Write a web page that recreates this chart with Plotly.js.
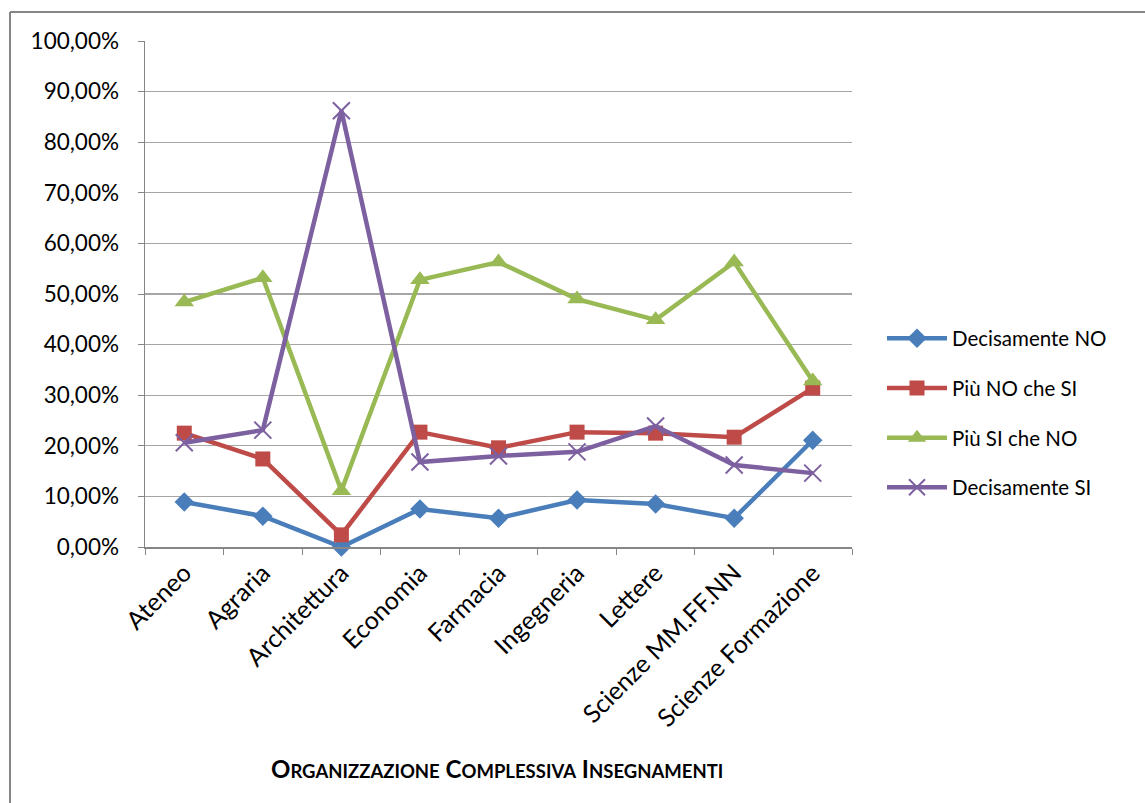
<!DOCTYPE html>
<html>
<head>
<meta charset="utf-8">
<script src="https://cdn.plot.ly/plotly-3.0.1.min.js"></script>
<style>
html,body{margin:0;padding:0;background:#fff;}
#chart{width:1145px;height:803px;}
</style>
</head>
<body>
<div id="chart"></div>
<script>
const categories = ["Ateneo","Agraria","Architettura","Economia","Farmacia","Ingegneria","Lettere","Scienze MM.FF.NN","Scienze Formazione"];
const decisamenteNo = [0.089,0.061,0.000,0.075,0.057,0.093,0.085,0.057,0.211];
const piuNoCheSi   = [0.225,0.174,0.024,0.227,0.196,0.227,0.225,0.217,0.314];
const piuSiCheNo   = [0.484,0.532,0.111,0.528,0.563,0.490,0.449,0.563,0.328];
const decisamenteSi= [0.206,0.231,0.862,0.168,0.180,0.188,0.239,0.162,0.146];
const seriesNames = ["Decisamente NO","Più NO che SI","Più SI che NO","Decisamente SI"];
const yTicks = [0,0.1,0.2,0.3,0.4,0.5,0.6,0.7,0.8,0.9,1.0];

const font = "Lato, 'Open Sans', sans-serif";
const traces = [
  {name:seriesNames[0], y:decisamenteNo, color:'#4a7ebb', symbol:'diamond', size:15, lw:0},
  {name:seriesNames[1], y:piuNoCheSi, color:'#be4b48', symbol:'square', size:15, lw:0},
  {name:seriesNames[2], y:piuSiCheNo, color:'#98b954', symbol:'triangle-up', size:17, lw:0},
  {name:seriesNames[3], y:decisamenteSi, color:'#7d60a0', symbol:'x-thin-open', size:17, lw:2}
].map((s,i) => ({
  type:'scatter', mode:'lines+markers', name:s.name, x:categories, y:s.y,
  legendgroup:'g'+i,
  line:{color:s.color, width:4.5},
  marker:{symbol:s.symbol, size:s.size, color:s.color, line:{color:s.color, width:s.lw}},
  cliponaxis:false
}));

const W=1145,H=803,L=145,R=852,T=41,B=547;
const pw=R-L, ph=B-T;
const px = v => (v-L)/pw, py = v => (B-v)/ph;
const border = {color:'#868686', width:2};

const layout = {
  width:W, height:H,
  margin:{l:L, r:W-R, t:T, b:H-B, pad:0},
  paper_bgcolor:'#fff', plot_bgcolor:'#fff',
  separators:',.',
  font:{family:font, color:'#000', size:19},
  showlegend:true,
  legend:{x:px(882), xanchor:'left', y:py(413), yanchor:'middle',
    font:{family:font, size:20.5, color:'#000'}, tracegroupgap:20, itemwidth:60,
    bgcolor:'rgba(0,0,0,0)'},
  xaxis:{type:'category', tickson:'boundaries', ticks:'outside', ticklen:6, tickcolor:'#868686',
    showline:true, linecolor:'#868686', linewidth:1.5, showgrid:false, zeroline:false,
    tickangle:-45, tickfont:{family:font, size:25, color:'#000'}, range:[-0.5,8.5], fixedrange:true},
  yaxis:{range:[0,1], tickvals:yTicks, tickformat:'.2%', ticks:'outside', ticklen:6, tickcolor:'#868686',
    showline:true, linecolor:'#868686', linewidth:1.5, showgrid:true, gridcolor:'#a6a6a6', gridwidth:1.3,
    zeroline:false, tickfont:{family:font, size:22.5, color:'#000'}, ticklabelstandoff:14, fixedrange:true},
  shapes:[
    {type:'line', xref:'paper', yref:'paper', x0:px(10), x1:px(W+5), y0:py(12), y1:py(12), line:border},
    {type:'line', xref:'paper', yref:'paper', x0:px(10), x1:px(10), y0:py(12), y1:py(H+5), line:border}
  ],
  annotations:[
    {xref:'paper', yref:'paper', x:px(497), y:py(768), xanchor:'center', yanchor:'middle', showarrow:false,
     font:{family:font, size:24, color:'#000'},
     text:'<b>O<span style="font-size:18.5px">RGANIZZAZIONE</span> C<span style="font-size:18.5px">OMPLESSIVA</span> I<span style="font-size:18.5px">NSEGNAMENTI</span></b>'}
  ]
};

Plotly.newPlot('chart', traces, layout, {displayModeBar:false, staticPlot:true});
</script>
</body>
</html>
